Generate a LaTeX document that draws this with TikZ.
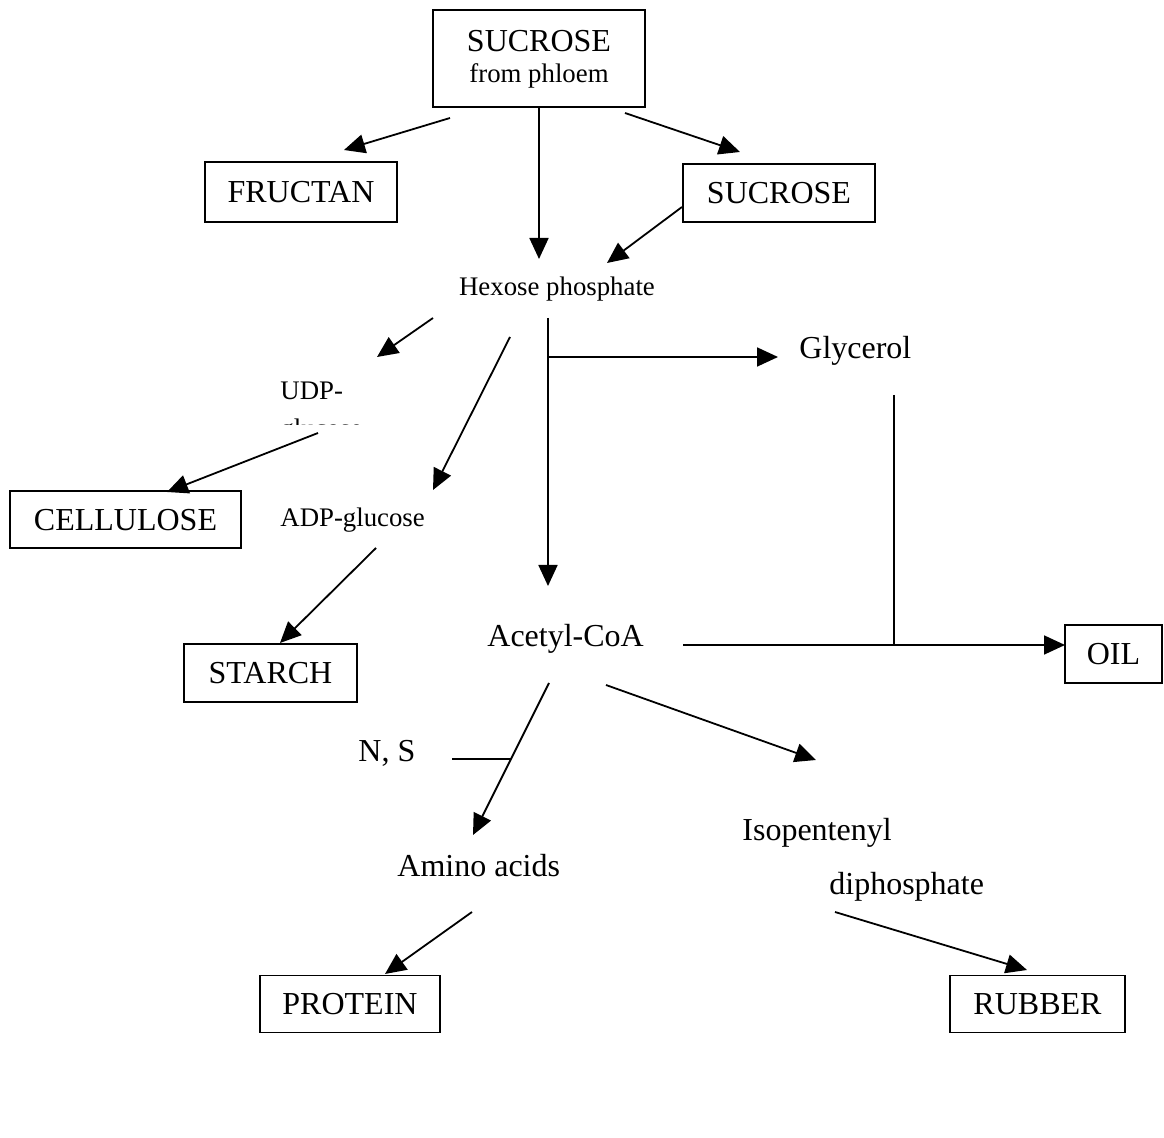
\documentclass[tikz,border=0pt]{standalone}
\usepackage{fontspec}
\setmainfont{Liberation Serif}
\usetikzlibrary{arrows.meta}
\begin{document}
\begin{tikzpicture}[x=0.5pt,y=-0.5pt,
  big/.style={font=\fontsize{16pt}{19pt}\selectfont, inner sep=0pt},
  small/.style={font=\fontsize{13.4pt}{16pt}\selectfont, inner sep=0pt},
  box/.style={draw, line width=0.9pt, inner sep=0pt, text height=10.6pt, text depth=0pt,
    font=\fontsize{16pt}{19pt}\selectfont},
  arr/.style={line width=0.9pt, -{Triangle[length=10.5pt,width=9.5pt]}},
  ln/.style={line width=0.9pt}]
\useasboundingbox[fill=white] (0,0) rectangle (1164,1138);

% boxes
\node[box, minimum width=106pt, minimum height=48.5pt] (top) at (539,58.5) {};
\node[big, anchor=base] (tsuc) at (539,52) {SUCROSE};
\node[small, anchor=base] (tphl) at (539,83) {from phloem};
\node[box, minimum width=96pt, minimum height=30pt] (fructan) at (301,192) {FRUCTAN};
\node[box, minimum width=96pt, minimum height=29pt] (sucr) at (779,193) {SUCROSE};
\node[box, minimum width=115.5pt, minimum height=28.5pt] (cell) at (125.5,519.5) {CELLULOSE};
\node[box, minimum width=86.5pt, minimum height=29pt] (starch) at (270.5,673) {STARCH};
\node[box, minimum width=48.5pt, minimum height=29pt] (oil) at (1113.5,654) {OIL};
\node[box, minimum width=90pt, minimum height=28.5pt] (protein) at (350,1004) {PROTEIN};
\node[box, minimum width=87.5pt, minimum height=28.5pt] (rubber) at (1037.5,1004) {RUBBER};

% free labels
\node[small, anchor=base] (hex) at (557,296) {Hexose phosphate};
\node[big, anchor=base west] (gly) at (799,359) {Glycerol};
\node[small, anchor=base west] (udp) at (280,400) {UDP-};
\begin{scope}
  \clip (270,405) rectangle (420,425);
  \node[small, anchor=base west] (udpg) at (280,438) {glucose};
\end{scope}
\node[small, anchor=base west] (adp) at (280,527) {ADP-glucose};
\node[big, anchor=base west] (acoa) at (487,647) {Acetyl-CoA};
\node[big, anchor=base west] (ns) at (358,762) {N, S};
\node[big, anchor=base west] (amino) at (397,877) {Amino acids};
\node[big, anchor=base west] (iso) at (742,841) {Isopentenyl};
\node[big, anchor=base west] (diph) at (829,895) {diphosphate};

% connector end points
\coordinate (a1s) at (450,118); \coordinate (a1e) at (344,150);
\coordinate (a2e) at (539,259);
\coordinate (a3s) at (625,113); \coordinate (a3e) at (740,152);
\coordinate (a4s) at (682,207); \coordinate (a4e) at (607,263);
\coordinate (a5s) at (433,318); \coordinate (a5e) at (377,357);
\coordinate (a6s) at (510,337); \coordinate (a6e) at (433,490);
\coordinate (a7s) at (548,318); \coordinate (a7e) at (548,586);
\coordinate (a8s) at (548,357); \coordinate (a8e) at (778,357);
\coordinate (a9s) at (318,433); \coordinate (a9e) at (167,492);
\coordinate (a10s) at (376,548); \coordinate (a10e) at (280,643);
\coordinate (a11s) at (683,645); \coordinate (a11e) at (1065,645);
\coordinate (a12s) at (894,395); \coordinate (a12e) at (894,645);
\coordinate (a13s) at (549,683); \coordinate (a13e) at (473,835);
\coordinate (a14s) at (452,759); \coordinate (a14e) at (511,759);
\coordinate (a15s) at (606,685); \coordinate (a15e) at (816,760);
\coordinate (a16s) at (472,912); \coordinate (a16e) at (385,974);
\coordinate (a17s) at (835,912); \coordinate (a17e) at (1027,970);

\draw[arr] (a1s) -- (a1e);
\draw[arr] (top.south) -- (a2e);
\draw[arr] (a3s) -- (a3e);
\draw[arr] (a4s) -- (a4e);
\draw[arr] (a5s) -- (a5e);
\draw[arr] (a6s) -- (a6e);
\draw[arr] (a7s) -- (a7e);
\draw[arr] (a8s) -- (a8e);
\draw[arr] (a9s) -- (a9e);
\draw[arr] (a10s) -- (a10e);
\draw[arr] (a11s) -- (a11e);
\draw[ln] (a12s) -- (a12e);
\draw[arr] (a13s) -- (a13e);
\draw[ln] (a14s) -- (a14e);
\draw[arr] (a15s) -- (a15e);
\draw[arr] (a16s) -- (a16e);
\draw[arr] (a17s) -- (a17e);
\end{tikzpicture}
\end{document}
